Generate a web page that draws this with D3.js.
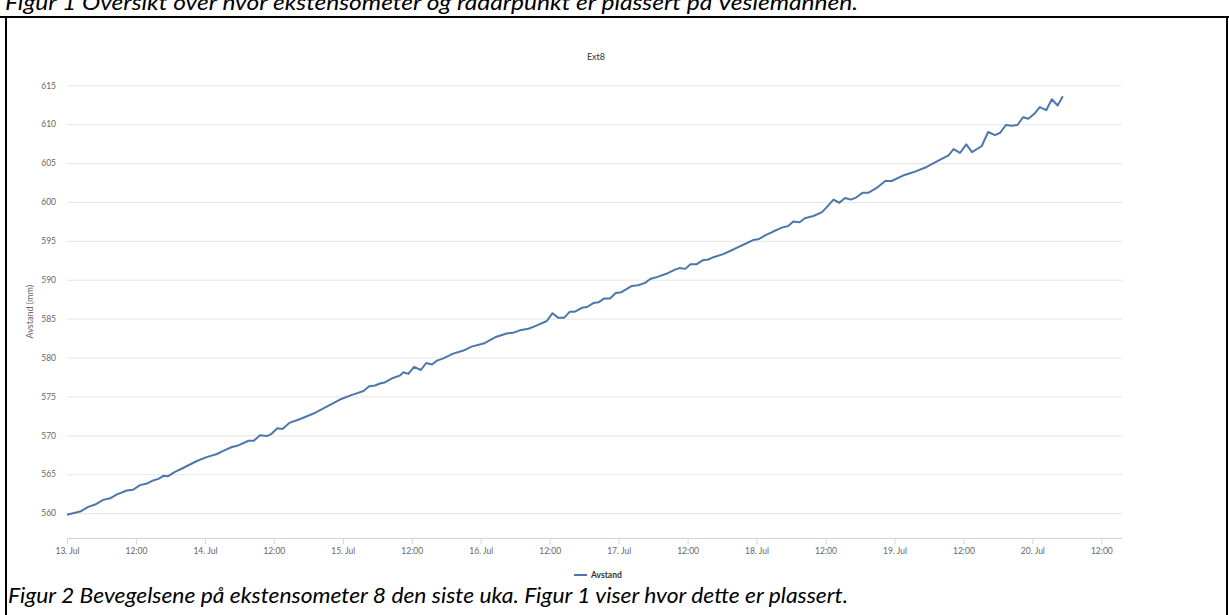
<!DOCTYPE html>
<html>
<head>
<meta charset="utf-8">
<script src="https://cdn.jsdelivr.net/npm/d3@7"></script>
<style>
    body { margin: 0; background: #fff; }
    svg { display: block; }
</style>
</head>
<body>
<svg id="figur" width="1229" height="615"></svg>
<script>
// måledata for Ext8, tid i timer etter 13. jul 00:00
const startTid = new Date(2019, 6, 13, 0, 0);
const timer = [
    0, 2.3, 3.7, 4.9, 6.3, 7.5, 8.7, 10.4, 11.5, 12.7, 13.9, 15.0, 15.9, 16.8, 17.6, 18.8, 20.2,
    22.6, 24.3, 26.1, 27.2, 28.7, 29.8, 31.6, 32.5, 33.6, 34.8, 35.6, 36.6, 37.5, 38.7, 40.6,
    42.9, 45.2, 47.5, 49.6, 50.4, 51.6, 52.6, 53.6, 54.6, 55.3, 56.5, 58.0, 58.5, 59.4, 60.4,
    61.6, 62.5, 63.5, 64.4, 65.5, 67.2, 69.0, 70.4, 72.5, 74.5, 76.5, 77.7, 78.8, 80.3, 81.7,
    83.5, 84.5, 85.5, 86.5, 87.5, 88.4, 89.6, 90.5, 91.6, 92.5, 93.5, 94.5, 95.5, 96.5, 98.3,
    99.4, 100.6, 101.5, 102.9, 104.4, 105.8, 106.6, 107.6, 108.5, 109.6, 110.6, 111.6, 112.5,
    114.2, 115.4, 116.8, 117.7, 119.4, 120.3, 121.5, 122.9, 124.4, 125.5, 126.4, 127.5, 128.4,
    129.9, 131.4, 132.3, 133.4, 134.4, 135.4, 136.4, 137.4, 138.5, 139.5, 140.9, 142.4, 143.5,
    145.5, 146.7, 147.6, 149.6, 151.9, 153.4, 154.3, 155.4, 156.5, 157.5, 159.2, 160.3, 161.5,
    162.4, 163.4, 164.4, 165.4, 166.4, 167.3, 168.3, 169.3, 170.4, 171.4, 172.4, 173.3
];
const avstand = [
    559.8, 560.2, 560.8, 561.1, 561.7, 561.9, 562.4, 562.9, 563.0, 563.6, 563.8, 564.2, 564.4, 564.8, 564.75, 565.3, 565.8,
    566.7, 567.2, 567.6, 568.0, 568.5, 568.7, 569.3, 569.3, 570.0, 569.9, 570.2, 570.9, 570.8, 571.6, 572.1,
    572.8, 573.7, 574.6, 575.2, 575.4, 575.7, 576.3, 576.4, 576.7, 576.8, 577.3, 577.7, 578.1, 577.9, 578.8,
    578.4, 579.3, 579.1, 579.6, 579.9, 580.5, 580.9, 581.4, 581.8, 582.6, 583.1, 583.2, 583.5, 583.7, 584.1,
    584.7, 585.7, 585.1, 585.1, 585.9, 585.9, 586.4, 586.5, 587.0, 587.1, 587.6, 587.6, 588.3, 588.4, 589.2,
    589.3, 589.6, 590.1, 590.4, 590.8, 591.3, 591.5, 591.4, 592.0, 592.0, 592.5, 592.6, 592.9,
    593.3, 593.7, 594.2, 594.5, 595.1, 595.2, 595.7, 596.2, 596.7, 596.9, 597.5, 597.4, 597.9,
    598.2, 598.7, 599.4, 600.3, 599.9, 600.5, 600.3, 600.6, 601.2, 601.2, 601.8, 602.7, 602.7,
    603.4, 603.7, 603.9, 604.5, 605.4, 606.0, 606.8, 606.3, 607.4, 606.4, 607.2, 609.0, 608.6,
    608.9, 609.9, 609.8, 609.9, 610.9, 610.7, 611.3, 612.2, 611.8, 613.2, 612.4, 613.6
];
const yTicks = [560, 565, 570, 575, 580, 585, 590, 595, 600, 605, 610, 615];
const tittel = "Ext8";
const yTittel = "Avstand (mm)";
const serieNavn = "Avstand";
const figurTekst1 = "Figur 1 Oversikt over hvor ekstensometer og radarpunkt er plassert på Veslemannen.";
const figurTekst2 = "Figur 2 Bevegelsene på ekstensometer 8 den siste uka. Figur 1 viser hvor dette er plassert.";

const data = timer.map((t, i) => ({ tid: d3.timeMinute.offset(startTid, Math.round(t * 60)), verdi: avstand[i] }));

const svg = d3.select("#figur");
const linjeFarge = "#4d77ac";
const fontTekst = "Lato, 'Open Sans', sans-serif";

// plottområde
const venstre = 67, hoyre = 1122, topp = 85.3, bunn = 538;

const scaleX = d3.scaleTime()
    .domain([startTid, d3.timeMinute.offset(startTid, Math.round(183.6 * 60))])
    .range([venstre, hoyre]);
const scaleY = d3.scaleLinear()
    .domain([556.8, 615])
    .range([bunn, topp]);

// ramme rundt figuren
svg.append("line").attr("x1", 0).attr("x2", 1229).attr("y1", 17).attr("y2", 17)
    .attr("stroke", "#000").attr("stroke-width", 2);
svg.append("line").attr("x1", 6).attr("x2", 6).attr("y1", 17).attr("y2", 615)
    .attr("stroke", "#000").attr("stroke-width", 2);
svg.append("line").attr("x1", 1227).attr("x2", 1227).attr("y1", 17).attr("y2", 615)
    .attr("stroke", "#000").attr("stroke-width", 2);

// figurtekster (den øverste er delvis kuttet i originalen)
svg.append("text").attr("x", 5).attr("y", 10)
    .attr("textLength", 853).attr("lengthAdjust", "spacingAndGlyphs")
    .style("font-family", fontTekst).style("font-style", "italic").style("font-size", "21px")
    .text(figurTekst1);
svg.append("text").attr("x", 8).attr("y", 603)
    .attr("textLength", 840).attr("lengthAdjust", "spacingAndGlyphs")
    .style("font-family", fontTekst).style("font-style", "italic").style("font-size", "21px")
    .text(figurTekst2);

// tittel
svg.append("text").attr("x", 596).attr("y", 60)
    .attr("text-anchor", "middle")
    .style("font-family", fontTekst).style("font-size", "9px").style("fill", "#333")
    .text(tittel);

// horisontale rutenettlinjer og y-akse
const axisY = d3.axisLeft(scaleY)
    .tickValues(yTicks)
    .tickSize(-(hoyre - venstre))
    .tickPadding(11)
    .tickFormat(d3.format("d"));

svg.append("g")
    .attr("class", "y-axis")
    .attr("transform", `translate(${venstre}, 0)`)
    .call(axisY)
    .call(g => g.select(".domain").remove())
    .call(g => g.selectAll(".tick line").attr("stroke", "#e6e6e6"))
    .call(g => g.selectAll(".tick text")
        .style("font-family", fontTekst).style("font-size", "8.5px").attr("fill", "#666"));

svg.append("text")
    .attr("transform", `translate(33, ${(topp + bunn) / 2}) rotate(-90)`)
    .attr("text-anchor", "middle")
    .style("font-family", fontTekst).style("font-size", "9px").style("fill", "#666")
    .text(yTittel);

// x-akse med etiketter hver 12. time
const axisX = d3.axisBottom(scaleX)
    .ticks(d3.timeHour.every(12))
    .tickSize(6)
    .tickPadding(4)
    .tickFormat(d => d.getHours() === 0 ? d3.timeFormat("%-d. ")(d) + "Jul" : "12:00");

svg.append("g")
    .attr("class", "x-axis")
    .attr("transform", `translate(0, ${bunn})`)
    .call(axisX)
    .call(g => g.select(".domain").attr("stroke", "#ccd6eb").attr("d", `M${venstre},0.5H${hoyre}`))
    .call(g => g.selectAll(".tick line").attr("stroke", "#ccd6eb"))
    .call(g => g.selectAll(".tick text")
        .style("font-family", fontTekst).style("font-size", "8.5px").attr("fill", "#666"));

// linjen
const line = d3.line()
    .x(d => scaleX(d.tid))
    .y(d => scaleY(d.verdi));

svg.append("path")
    .datum(data)
    .attr("fill", "none")
    .attr("stroke", linjeFarge)
    .attr("stroke-width", 2)
    .attr("stroke-linejoin", "round")
    .attr("d", line);

// legende
const legende = svg.append("g").attr("transform", "translate(574, 575)");
legende.append("line").attr("x1", 0).attr("x2", 13).attr("y1", 0).attr("y2", 0)
    .attr("stroke", linjeFarge).attr("stroke-width", 2);
legende.append("text").attr("x", 17).attr("y", 3)
    .style("font-family", fontTekst).style("font-size", "8.5px").style("font-weight", "bold").style("fill", "#333")
    .text(serieNavn);
</script>
</body>
</html>
